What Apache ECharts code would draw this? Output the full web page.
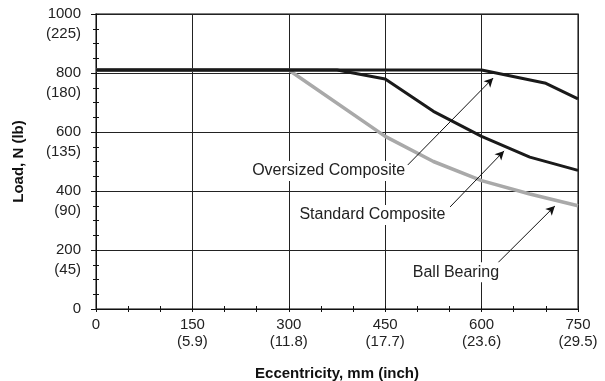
<!DOCTYPE html>
<html><head><meta charset="utf-8">
<script src="https://cdn.jsdelivr.net/npm/echarts@6/dist/echarts.min.js"></script>
<style>html,body{margin:0;padding:0;background:#fff}#c{width:605px;height:381px}</style>
</head><body><div id="c"></div>
<script>
// Data (Eccentricity mm, Load N)
const ballBearing = [[0,810],[300,810],[450,585],[525,500],[600,435],[675,390],[750,350]];
const standardComposite = [[0,810],[375,810],[450,780],[525,670],[600,585],[675,515],[750,470]];
const oversizedComposite = [[0,810],[600,810],[700,765],[750,712]];
const xTickLabels = {0:'0',150:'150\n(5.9)',300:'300\n(11.8)',450:'450\n(17.7)',600:'600\n(23.6)',750:'750\n(29.5)'};
const yTickLabels = {0:'0',200:'200\n(45)',400:'400\n(90)',600:'600\n(135)',800:'800\n(180)',1000:'1000\n(225)'};
// annotation: [text, textPos, arrowStart, arrowEnd]
const annotations = [
  ['Oversized Composite', [362,468], [485,488], [618,783]],
  ['Standard Composite', [430,319], [551,346], [635,536]],
  ['Ball Bearing', [560,125], [625,156], [714,349]]
];
const FONT = 'Liberation Sans, Arial, sans-serif';
const FS = 15;
const chart = echarts.init(document.getElementById('c'));
const lineStyleAxis = {color:'#111', width:1};
chart.setOption({
  animation:false,
  grid:{left:96, right:27, top:14, bottom:72, show:true, borderColor:'#555', borderWidth:1.5,
        containLabel:false, outerBoundsMode:'none'},
  xAxis:[{
    type:'value', min:0, max:750, interval:150,
    name:'Eccentricity, mm (inch)', nameLocation:'middle', nameGap:57,
    nameTextStyle:{fontFamily:FONT, fontWeight:'bold', fontSize:FS, color:'#111'},
    axisLine:{show:true, lineStyle:lineStyleAxis},
    axisTick:{show:true, inside:true, length:3, lineStyle:lineStyleAxis},
    minorTick:{show:true, splitNumber:3, length:3, lineStyle:lineStyleAxis},
    axisLabel:{fontFamily:FONT, fontSize:FS, color:'#222', margin:7, lineHeight:17,
      formatter:v=>xTickLabels[v]||''},
    splitLine:{show:true, lineStyle:{color:'#222', width:1}}
  },{
    type:'value', min:0, max:750, interval:150, position:'bottom',
    axisLine:{show:false}, axisLabel:{show:false}, splitLine:{show:false},
    axisTick:{show:true, inside:false, length:3, lineStyle:lineStyleAxis},
    minorTick:{show:true, splitNumber:3, length:3, lineStyle:lineStyleAxis}
  }],
  yAxis:[{
    type:'value', min:0, max:1000, interval:200,
    name:'Load, N (lb)', nameLocation:'middle', nameGap:70, nameRotate:90,
    nameTextStyle:{fontFamily:FONT, fontWeight:'bold', fontSize:FS, color:'#111'},
    axisLine:{show:true, lineStyle:lineStyleAxis},
    axisTick:{show:true, length:5, lineStyle:lineStyleAxis},
    minorTick:{show:true, splitNumber:4, length:3, lineStyle:lineStyleAxis},
    axisLabel:{fontFamily:FONT, fontSize:FS, color:'#222', margin:15, lineHeight:20,
      verticalAlign:'top', padding:[-10,0,0,0],
      formatter:v=>yTickLabels[v]},
    splitLine:{show:true, lineStyle:{color:'#222', width:1}}
  },{
    type:'value', min:0, max:1000, interval:200, position:'left',
    axisLine:{show:false}, axisLabel:{show:false}, splitLine:{show:false},
    minorTick:{show:true, splitNumber:4, length:3, lineStyle:lineStyleAxis},
    axisTick:{show:true, inside:true, length:3, lineStyle:lineStyleAxis}
  }],
  series:[
    {name:'Ball Bearing', type:'line', data:ballBearing, symbol:'none', z:2,
     lineStyle:{color:'#a9a9a9', width:3.5}},
    {name:'Standard Composite', type:'line', data:standardComposite, symbol:'none', z:3,
     lineStyle:{color:'#1a1a1a', width:3}},
    {name:'Oversized Composite', type:'line', data:oversizedComposite, symbol:'none', z:4,
     lineStyle:{color:'#1a1a1a', width:3}},
    {type:'line', data:[], z:10,
     markLine:{silent:true, symbol:['none','arrow'], symbolSize:[7,9],
       lineStyle:{color:'#111', width:1, type:'solid'}, label:{show:false},
       data:annotations.map(a=>[{coord:a[2]},{coord:a[3]}])},
     markPoint:{silent:true, symbol:'rect', symbolSize:1,
       itemStyle:{color:'rgba(0,0,0,0)'},
       label:{show:true, position:'inside', fontFamily:FONT, fontSize:16, color:'#222',
         backgroundColor:'#fff', padding:[2,2], formatter:p=>p.name},
       data:annotations.map(a=>({name:a[0], coord:a[1]}))}
    }
  ]
});
</script></body></html>
